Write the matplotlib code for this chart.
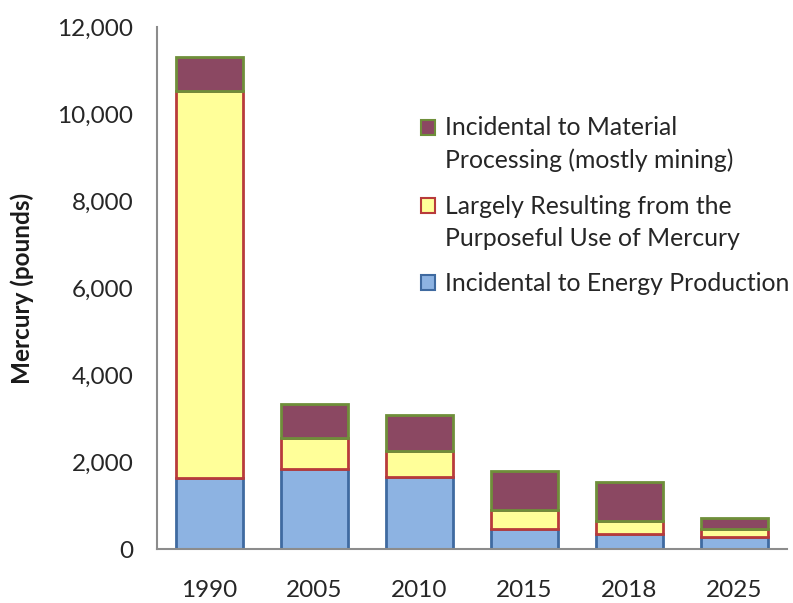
import matplotlib
matplotlib.use("Agg")
import matplotlib.pyplot as plt
from matplotlib.patches import Patch, Rectangle
from matplotlib.legend_handler import HandlerPatch
from matplotlib.ticker import FuncFormatter

years = ["1990", "2005", "2010", "2015", "2018", "2025"]
energy = [1630, 1840, 1650, 470, 350, 280]
purposeful = [8900, 710, 600, 430, 300, 180]
material = [780, 780, 830, 890, 890, 250]

labels = [
    "Incidental to Energy Production",
    "Largely Resulting from the\nPurposeful Use of Mercury",
    "Incidental to Material\nProcessing (mostly mining)",
]
fills = ["#8db3e2", "#ffff99", "#8b4862"]
edges = ["#3f6aa0", "#b83b3b", "#6f8f3a"]

plt.rcParams["font.family"] = ["Lato", "DejaVu Sans"]


class RaisedPatch(HandlerPatch):
    """Square legend key lifted so it sits beside the first line of a label."""

    def __init__(self, raise_pts=0.0, **kw):
        super().__init__(**kw)
        self.raise_pts = raise_pts

    def create_artists(self, legend, orig_handle, xdescent, ydescent,
                       width, height, fontsize, trans):
        p = Rectangle(xy=(-xdescent, -ydescent + self.raise_pts),
                      width=width, height=height)
        self.update_prop(p, orig_handle, legend)
        p.set_transform(trans)
        return [p]


fig = plt.figure(figsize=(7.93, 6.03), dpi=100)
ax = fig.add_axes([157 / 793, 1 - 549 / 603, 630 / 793, 522 / 603])

x = list(range(len(years)))
bottoms = [0] * len(years)
for vals, fc, ec in zip([energy, purposeful, material], fills, edges):
    ax.bar(x, vals, width=0.64, bottom=bottoms, color=fc, edgecolor=ec,
           linewidth=2, zorder=2)
    bottoms = [b + v for b, v in zip(bottoms, vals)]

ax.set_xlim(-0.5, 5.5)
ax.set_ylim(0, 12000)
ax.set_yticks(range(0, 12001, 2000))
ax.yaxis.set_major_formatter(FuncFormatter(lambda v, p: f"{int(v):,}"))
ax.set_xticks(x)
ax.set_xticklabels(years)
ax.tick_params(axis="both", length=0, labelsize=17.5, colors="#262626")
ax.tick_params(axis="y", pad=17)
ax.tick_params(axis="x", pad=22)

for side in ["top", "right"]:
    ax.spines[side].set_visible(False)
for side in ["left", "bottom"]:
    ax.spines[side].set_color("#8c8c8c")
    ax.spines[side].set_linewidth(1.5)

fig.text(22 / 793, 1 - 288 / 603, "Mercury (pounds)", rotation=90,
         ha="center", va="center", fontsize=17.5, fontweight="bold",
         color="#1a1a1a")

handles = [Patch(facecolor=fc, edgecolor=ec, linewidth=1.5)
           for fc, ec in zip(fills, edges)]
lift = [0.0, 12.5, 12.5]
hmap = {h: RaisedPatch(raise_pts=r) for h, r in zip(handles, lift)}
leg = ax.legend(handles[::-1], labels[::-1], loc="upper left",
                bbox_to_anchor=(421 / 793, 1 - 116 / 603),
                bbox_transform=fig.transFigure, frameon=False,
                fontsize=17.8, handlelength=0.57, handleheight=0.57,
                handletextpad=0.4, labelspacing=0.9, borderpad=0,
                borderaxespad=0, handler_map=hmap)
for t in leg.get_texts():
    t.set_linespacing(1.5)
    t.set_color("#262626")

fig.savefig("out.png", dpi=100, facecolor="white")
